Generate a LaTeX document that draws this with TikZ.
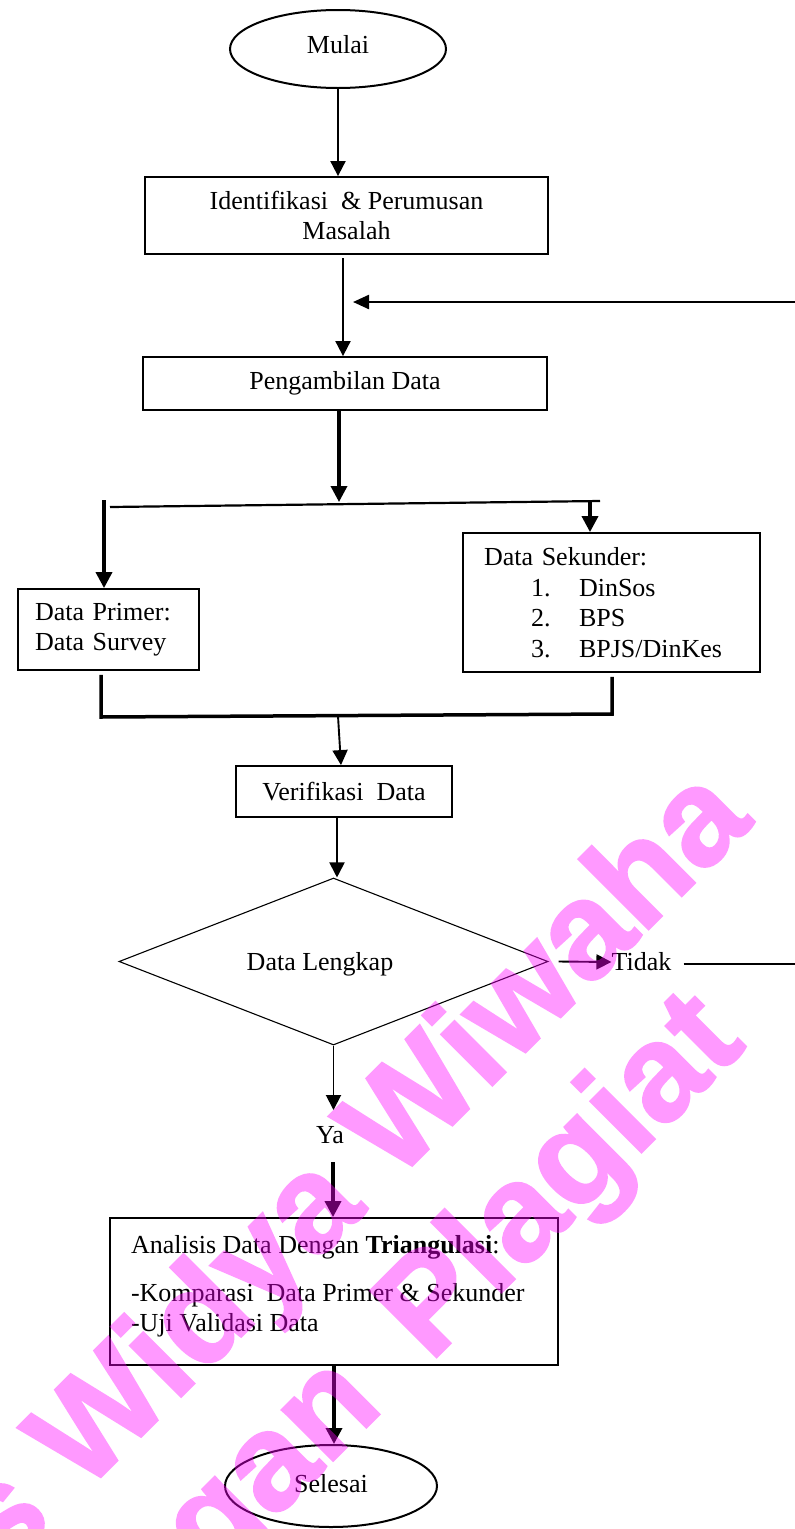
\documentclass[tikz,border=0pt]{standalone}
\usepackage{fontspec}
\setmainfont{Liberation Serif}
\newfontfamily\wmfont[FakeBold=1.5]{Liberation Sans Bold}
\usetikzlibrary{arrows.meta,shapes.geometric,calc}
\definecolor{wmmag}{RGB}{255,0,255}

\begin{document}
\begin{tikzpicture}[x=1pt,y=-1pt,
  lbl/.style={font=\fontsize{26}{30.5}\selectfont, inner sep=0pt},
  box/.style={draw, line width=1.8pt, rectangle, inner sep=0pt, font=\fontsize{26}{30.5}\selectfont},
  term/.style={draw, line width=2pt, ellipse, inner sep=0pt, font=\fontsize{26}{30.5}\selectfont},
  arr/.style={line width=1.9pt, -{Triangle[length=15pt,width=15pt]}},
  farr/.style={line width=2.3pt, -{Triangle[length=16pt,width=14pt]}},
  tarr/.style={line width=3.5pt, -{Triangle[length=16pt,width=16pt]}},
  wm/.style={font=\wmfont\fontsize{137}{137}\selectfont, text=wmmag, inner sep=0pt, rotate=45}
]
\clip (0,0) rectangle (795,1529);
\fill[white] (0,0) rectangle (795,1529);

% nodes
\node[term, minimum width=216pt, minimum height=78pt, text depth=9pt] (mulai) at (338,49) {Mulai};
\node[box, minimum width=403pt, minimum height=77pt, align=center] (ident) at (346.5,215.5)
  {Identifikasi\ \ \& Perumusan\\Masalah};
\node[box, minimum width=404pt, minimum height=53pt] (peng) at (345,383.5) {Pengambilan Data};
\node[box, minimum width=181pt, minimum height=81pt, text width=147pt, align=left] (primer) at (108.5,629.5)
  {Data Primer:\\Data Survey};
\node[box, minimum width=297pt, minimum height=139pt, text width=255pt, align=left] (sek) at (611.5,602.5)
  {Data Sekunder:\\
   \hspace*{47pt}\makebox[48pt][l]{1.}DinSos\\
   \hspace*{47pt}\makebox[48pt][l]{2.}BPS\\
   \hspace*{47pt}\makebox[48pt][l]{3.}BPJS/DinKes};
\node[box, minimum width=216pt, minimum height=51pt] (verif) at (344,791.5) {Verifikasi\ \ Data};
\node[draw, diamond, line width=1.1pt, inner sep=0pt, minimum width=429pt, minimum height=167pt] (dia) at (333.5,961.5) {};
\node[lbl] (lengkap) at (320,964) {Data Lengkap};
\node[lbl] (tidak) at (641.5,962) {Tidak};
\node[lbl] (ya) at (330,1135) {Ya};
\node[box, minimum width=448pt, minimum height=147pt] (ana) at (334,1291.5)
  {\parbox[c][112pt][t]{406pt}{\raggedright
   Analisis Data Dengan \textbf{Triangulasi}:\\[17pt]
   -Komparasi\ \ Data Primer \& Sekunder\\
   -Uji Validasi Data}};
\node[term, minimum width=212pt, minimum height=82pt, text depth=5pt] (selesai) at (331,1486) {Selesai};

% connectors
\draw[arr] (mulai.south) -- (mulai.south |- ident.north);
\coordinate (ip) at (343,258);
\draw[arr] (ip) -- (ip |- peng.north);
\coordinate (fb) at (353,302);
\draw[farr] ($(tidak.east)+(12,2)$) -- (810,964) -- (810,302) -- (fb);

\coordinate (sp) at (339,502);
\draw[tarr] (peng.south -| sp) -- (sp);
\draw[line width=2.2pt] (110,507) -- (600,501);
\coordinate (sl) at (104,500);
\draw[tarr] (sl) -- (sl |- primer.north);
\coordinate (sr) at (590,501);
\draw[tarr] (sr) -- (sr |- sek.north);

\draw[line width=3.5pt] ($(primer.south)+(-7.5,4)$) -- (101,717) -- (612,714) -- ($(sek.south)+(0.5,4)$);
\coordinate (mg) at (338,716);
\draw[arr] (mg) -- ($(verif.north)+(-3,0)$);

\coordinate (vd) at (337,817);
\draw[arr] (vd) -- (vd |- dia.north);

\coordinate (yatop) at (334,1110);
\draw[arr] (dia.south) -- (dia.south |- yatop);
\coordinate (yb) at (333,1162);
\draw[tarr] (yb) -- (yb |- ana.north);
\draw[tarr] (ana.south) -- (ana.south |- selesai.north);

\draw[arr] ($(dia.east)+(10,0)$) -- (tidak.west);

% watermark
\begin{scope}[transparency group, opacity=0.4]
\node[wm, anchor=base east] (wm1) at (755,823) {Universitas Widya Wiwaha};
\node[wm, anchor=base east] (wm2) at (748,1046) {Jangan\hspace{0.46em}Plagiat};
\end{scope}
\end{tikzpicture}
\end{document}
